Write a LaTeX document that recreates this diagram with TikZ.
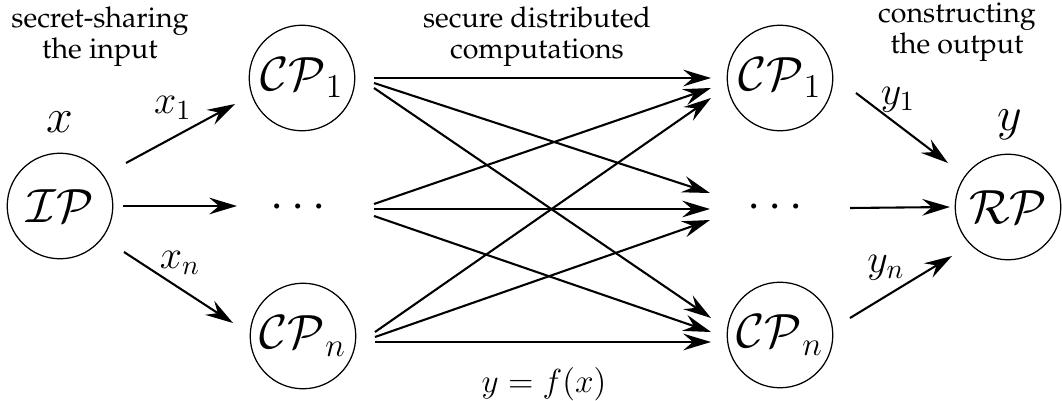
\documentclass[tikz,border=0pt]{standalone}
\usepackage[T1]{fontenc}
\usepackage{palatino}
\usepackage{amsmath,amssymb}
\usetikzlibrary{calc,arrows.meta}

\begin{document}
\begin{tikzpicture}[x = 0.36pt, y = -0.36pt,
        party/.style = {draw, circle, line width = 0.45pt, minimum size = 38pt, inner sep = 0pt, font = \LARGE},
        blank/.style = {circle, minimum size = 38pt, inner sep = 0pt, font = \LARGE},
        arr/.style = {-{Stealth[length = 10pt, width = 6pt, inset = 3.5pt]}, line width = 0.75pt},
        note/.style = {align = center, font = \fontsize{10.3}{11.2}\selectfont}]
            \useasboundingbox(0,0)rectangle(1062,401);
            %parties
            \node[party](IP)at(60,206){$\mathcal{IP}$};
            \node[party](CPa)at(302,78){$\mathcal{CP}_1$};
            \node[blank](Da)at(302,208){$\cdots$};
            \node[party](CPb)at(303,336){$\mathcal{CP}_n$};
            \node[party](CPc)at(780,78){$\mathcal{CP}_1$};
            \node[blank](Db)at(779,208){$\cdots$};
            \node[party](CPd)at(780,335){$\mathcal{CP}_n$};
            \node[party](RP)at(1008,207){$\mathcal{RP}$};
            %labels
            \node[font = \LARGE](x)at(60,122){$x$};
            \node[font = \LARGE](y)at(1010,125){$y$};
            \node[font = \Large](x1)at(173,108){$x_1$};
            \node[font = \Large](xn)at(180,263){$x_n$};
            \node[font = \Large](y1)at(898,100){$y_1$};
            \node[font = \Large](yn)at(886,268){$y_n$};
            \node[font = \large](f)at(544,384){$y = f(x)$};
            \node[note](share)at(100,37){secret-sharing\\the input};
            \node[note](comp)at(537,37){secure distributed\\computations};
            \node[note](build)at(957,32){constructing\\the output};
            %input
            \path[draw,arr]($(IP)+(66,-43)$)to($(CPa)+(-67,26)$);
            \path[draw,arr]($(IP)+(63,0)$)to($(IP -| Da)+(-65,0)$);
            \path[draw,arr]($(IP)+(64,46)$)to($(CPb)+(-70,-13)$);
            %computation
            \foreach \a/\b/\s/\t in {CPa/CPc/0/0, CPa/Db/5/-15, CPa/CPd/10/-17,
                    Da/CPc/-4/10, Da/Db/1/1, Da/CPd/8/-3,
                    CPb/CPc/-4/20, CPb/Db/1/12, CPb/CPd/6/7}
                \path[draw,arr]($(\a)+(72,\s)$)to($(\b)+(-69,\t)$);
            %output
            \path[draw,arr]($(CPc)+(76,15)$)to($(RP)+(-60,-44)$);
            \path[draw,arr]($(Db)+(71,0)$)to($(RP)+(-58,0)$);
            \path[draw,arr]($(CPd)+(70,-17)$)to($(RP)+(-56,49)$);
\end{tikzpicture}
\end{document}
